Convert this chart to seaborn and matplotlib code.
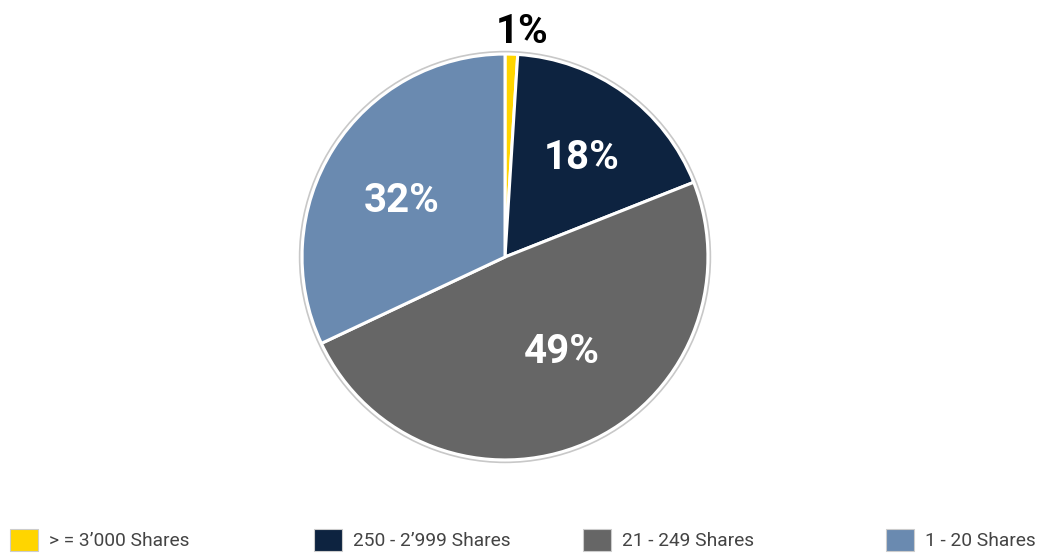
import matplotlib
matplotlib.use("Agg")
import matplotlib.pyplot as plt
from matplotlib.patches import Patch, Circle
import seaborn as sns

categories = ["> = 3\u2019000 Shares", "250 - 2\u2019999 Shares", "21 - 249 Shares", "1 - 20 Shares"]
values = [1, 18, 49, 32]
colors = ["#FFD500", "#0D2340", "#666666", "#6A8AB0"]

sns.set_theme(style="white")
plt.rcParams['font.family'] = ['Roboto', 'DejaVu Sans']

W, H = 1044, 557
fig = plt.figure(figsize=(W / 100, H / 100), dpi=100)
cx, cy, r = 505, 257, 207
ax = fig.add_axes([(cx - r) / W, 1 - (cy + r) / H, 2 * r / W, 2 * r / H])

wedges, texts, autotexts = ax.pie(
    values, colors=sns.color_palette(colors), startangle=90, counterclock=False,
    autopct=lambda p: f"{p:.0f}%", pctdistance=0.6,
    wedgeprops=dict(edgecolor="white", linewidth=2.2),
    textprops=dict(color="white", fontsize=29, fontweight="bold"))
ax.add_patch(Circle((0, 0), 1.012, fill=False, edgecolor="#c8c8c8", linewidth=1.2))
autotexts[0].set_color("black")
label_pos = [(0.082, 1.11), (0.38, 0.49), (0.28, -0.47), (-0.507, 0.275)]
for t, p in zip(autotexts, label_pos):
    t.set_position(p)
ax.set_xlim(-1.02, 1.02)
ax.set_ylim(-1.02, 1.02)
ax.set_aspect("equal")
ax.axis("off")

xs = [10, 314, 583, 886]
for x, lab, c in zip(xs, categories, colors):
    h = Patch(facecolor=c, edgecolor="#cccccc", linewidth=0.8)
    leg = fig.legend([h], [lab], loc="center left", bbox_to_anchor=(x / W, 1 - 540 / H),
                     frameon=False, fontsize=13.8, handlelength=1.45, handleheight=1.45,
                     handletextpad=0.6, borderaxespad=0, borderpad=0)
    for t in leg.get_texts():
        t.set_color("#444444")

fig.savefig("out.png", dpi=100)
